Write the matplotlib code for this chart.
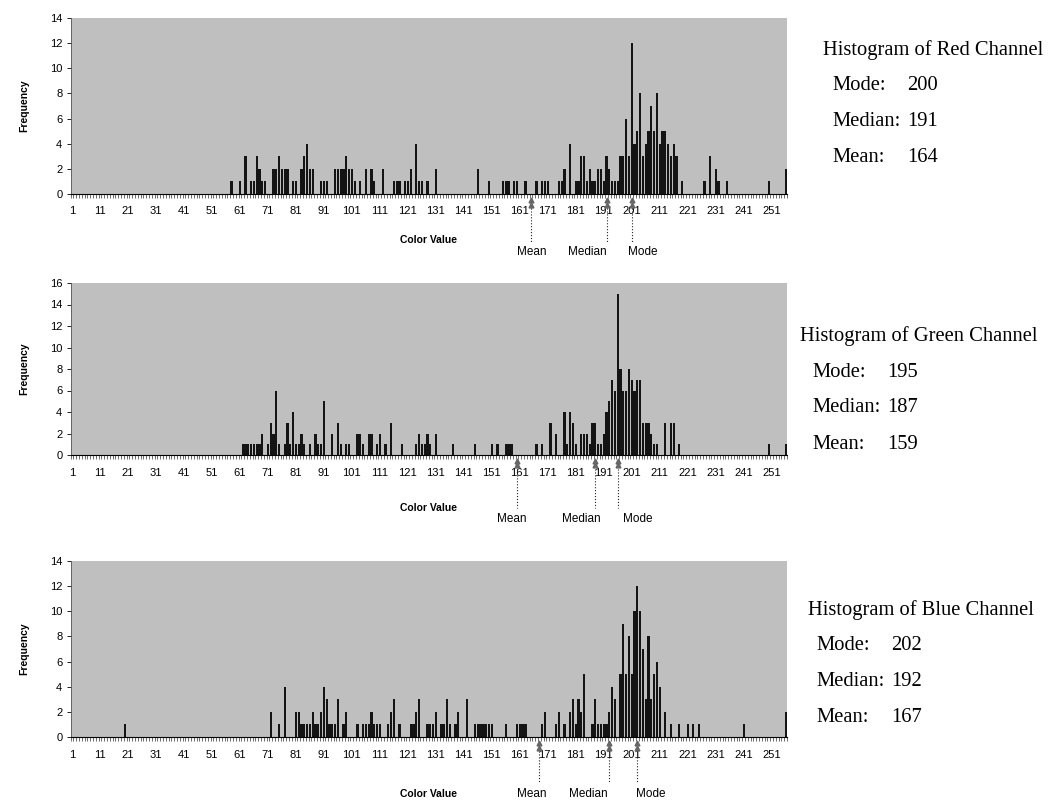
import matplotlib
matplotlib.use("Agg")
import matplotlib.pyplot as plt
from matplotlib.transforms import blended_transform_factory
import numpy as np

# category axis 1..256 (colour value + 1), tick labels every 10
categories = np.arange(1, 257)
tick_values = list(range(1, 252, 10))

red_bins = [58, 61, 63, 65, 66, 67, 68, 69, 70, 73, 74, 75, 76, 77, 78, 80, 81,
            83, 84, 85, 86, 87, 90, 91, 92, 95, 96, 97, 98, 99, 100, 101, 102, 104,
            106, 108, 109, 112, 116, 117, 118, 120, 121, 122, 124, 125, 126, 128, 131,
            146, 150, 155, 156, 157, 159, 160, 163, 167, 169, 170, 171,
            175, 176, 177, 179, 181, 182, 183, 184, 185, 186, 187, 188, 189, 190, 191,
            192, 193, 194, 195, 196, 197, 198, 199, 200, 201, 202, 203, 204, 205, 206,
            207, 208, 209, 210, 211, 212, 213, 214, 215, 216, 217, 219,
            227, 229, 231, 232, 235, 250, 256]
red_counts = [1, 1, 3, 1, 1, 3, 2, 1, 1, 2, 2, 3, 2, 2, 2, 1, 1,
              2, 3, 4, 2, 2, 1, 1, 1, 2, 2, 2, 2, 3, 2, 2, 1, 1,
              2, 2, 1, 2, 1, 1, 1, 1, 1, 2, 4, 1, 1, 1, 2,
              2, 1, 1, 1, 1, 1, 1, 1, 1, 1, 1, 1,
              1, 1, 2, 4, 1, 1, 3, 3, 1, 2, 1, 1, 2, 2, 1,
              3, 2, 1, 1, 1, 3, 3, 6, 3, 12, 4, 5, 8, 3, 4,
              5, 7, 5, 8, 4, 5, 5, 4, 3, 4, 3, 1,
              1, 3, 2, 1, 1, 1, 2]

green_bins = [62, 63, 64, 65, 66, 67, 68, 69, 71, 72, 73, 74, 75, 77, 78, 79, 80,
              81, 82, 83, 84, 86, 88, 89, 90, 91, 94, 96, 97, 99, 100, 103, 104, 105,
              107, 108, 110, 111, 113, 115, 119, 124, 125, 126, 127, 128, 129, 131,
              137, 145, 151, 153, 156, 157, 158, 167, 169, 172, 174, 177, 178, 179,
              180, 181, 183, 184, 185, 186, 187, 188, 189, 190, 191, 192, 193, 194,
              195, 196, 197, 198, 199, 200, 201, 202, 203, 204, 205, 206, 207, 208,
              209, 210, 213, 215, 216, 218, 250, 256]
green_counts = [1, 1, 1, 1, 1, 1, 1, 2, 1, 3, 2, 6, 1, 1, 3, 1, 4,
                1, 1, 2, 1, 1, 2, 1, 1, 5, 2, 3, 1, 1, 1, 2, 2, 1,
                2, 2, 1, 2, 1, 3, 1, 1, 2, 1, 1, 2, 1, 2,
                1, 1, 1, 1, 1, 1, 1, 1, 1, 3, 2, 4, 1, 4,
                3, 1, 2, 2, 2, 1, 3, 3, 1, 1, 2, 4, 5, 7,
                6, 15, 8, 6, 6, 8, 7, 6, 7, 7, 3, 3, 3, 2,
                1, 1, 3, 3, 3, 1, 1, 1]

blue_bins = [20, 72, 75, 77, 81, 82, 83, 84, 85, 86, 87, 88, 89, 90, 91, 92, 93,
             94, 95, 96, 98, 99, 103, 105, 106, 107, 108, 109, 110, 111, 114, 115,
             116, 118, 122, 123, 124, 125, 128, 129, 130, 131, 133, 134, 135, 136,
             138, 139, 142, 145, 146, 147, 148, 149, 150, 151, 156, 160, 161, 162,
             163, 169, 170, 174, 175, 177, 179, 180, 181, 182, 183, 184, 187, 188,
             189, 190, 191, 192, 193, 194, 195, 197, 198, 199, 200, 201, 202, 203,
             204, 205, 206, 207, 208, 209, 210, 211, 213, 215, 218, 221, 223, 225,
             241, 256]
blue_counts = [1, 2, 1, 4, 2, 2, 1, 1, 1, 1, 2, 1, 1, 2, 4, 3, 1,
               1, 1, 3, 1, 2, 1, 1, 1, 1, 2, 1, 1, 1, 1, 2,
               3, 1, 1, 1, 2, 3, 1, 1, 1, 2, 1, 1, 3, 1,
               1, 2, 3, 1, 1, 1, 1, 1, 1, 1, 1, 1, 1, 1,
               1, 1, 2, 1, 2, 1, 2, 3, 1, 3, 2, 5, 1, 3,
               1, 1, 1, 1, 2, 4, 3, 5, 9, 5, 8, 5, 10, 12,
               10, 7, 3, 8, 3, 5, 6, 4, 2, 1, 1, 1, 1, 1,
               1, 2]

channels = ["Red", "Green", "Blue"]
modes = [200, 195, 202]
medians = [191, 187, 192]
means = [164, 159, 167]
y_max = [14, 16, 14]


def to_hist(bins, counts):
    h = np.zeros(len(categories))
    h[np.array(bins) - 1] = counts
    return h


hists = [to_hist(red_bins, red_counts),
         to_hist(green_bins, green_counts),
         to_hist(blue_bins, blue_counts)]

# layout (figure fractions), label positions in category units
axes_rects = [[0.0669, 0.7575, 0.6784, 0.220],
              [0.0669, 0.43125, 0.6784, 0.215],
              [0.0669, 0.07875, 0.6784, 0.220]]
stat_label_x = [(165.3, 185.3, 205.0), (158.0, 183.0, 203.0), (165.3, 185.6, 207.8)]
stat_label_y = [-0.33, -0.37, -0.324]
xlabel_y = [-0.26, -0.31, -0.324]
title_xy = [(823, 50), (800, 336), (808, 610)]
row_x = [832, 812, 816]
row_gap = 36
serif = dict(family="Liberation Serif", fontsize=14.8, va="center")

plt.rcParams["font.family"] = ["Liberation Sans", "DejaVu Sans"]
fig = plt.figure(figsize=(10.56, 8), dpi=100)
renderer = fig.canvas.get_renderer()

for i, ch in enumerate(channels):
    ax = fig.add_axes(axes_rects[i])
    ax.set_facecolor("#bfbfbf")
    ax.bar(categories, hists[i], width=0.8, color="#141414", linewidth=0)
    ax.set_xlim(0.5, 256.5)
    ax.set_ylim(0, y_max[i])
    ax.set_yticks(range(0, y_max[i] + 1, 2))
    ax.set_xticks(tick_values)
    ax.set_xticks(np.arange(0.5, 257, 1), minor=True)
    ax.tick_params(axis="x", which="major", length=0, pad=9, labelsize=8)
    ax.tick_params(axis="x", which="minor", length=3, width=0.5, color="#333333")
    ax.tick_params(axis="y", length=3, width=0.6, labelsize=8, pad=3)
    for s in ["top", "right"]:
        ax.spines[s].set_visible(False)
    ax.spines["left"].set_color("#555555")
    ax.spines["left"].set_linewidth(0.6)
    ax.spines["bottom"].set_linewidth(0.8)

    tr = blended_transform_factory(ax.transData, ax.transAxes)
    stats = [means[i] + 1, medians[i] + 1, modes[i] + 1]
    for k, (name, xs) in enumerate(zip(["Mean", "Median", "Mode"], stats)):
        ax.plot([xs, xs], [-0.035, -0.06], transform=tr, clip_on=False,
                marker="^", markersize=3.5, color="#666666", linestyle="none")
        ax.plot([xs, xs], [-0.08, stat_label_y[i] + 0.06], transform=tr,
                clip_on=False, color="#222222", linestyle=":", linewidth=0.8)
        ax.text(stat_label_x[i][k], stat_label_y[i], name, transform=tr,
                ha="center", va="center", fontsize=8.5)

    ax.text(0.5, xlabel_y[i], "Color Value", transform=ax.transAxes,
            ha="center", va="center", fontsize=7.5, fontweight="bold")
    yc = axes_rects[i][1] + axes_rects[i][3] / 2
    fig.text(24 / 1056, yc, "Frequency", rotation=90, ha="center", va="center",
             fontsize=7.5, fontweight="bold")

    # summary text on the right
    tx, ty = title_xy[i]
    fig.text(tx / 1056, 1 - ty / 800, "Histogram of %s Channel" % ch, **serif)
    # values line up after "Median: "
    probe = fig.text(0, 0, "Median: ", **serif)
    w = probe.get_window_extent(renderer).width
    probe.remove()
    rows = [("Mode:", modes[i]), ("Median:", medians[i]), ("Mean:", means[i])]
    for r, (lab, val) in enumerate(rows):
        yy = 1 - (ty + row_gap * (r + 1)) / 800
        fig.text(row_x[i] / 1056, yy, lab, **serif)
        fig.text((row_x[i] + w + 2) / 1056, yy, str(val), **serif)

fig.savefig("out.png", dpi=100)
